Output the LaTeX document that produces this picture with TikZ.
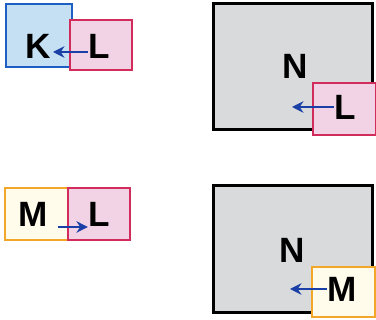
\documentclass[tikz,border=0pt]{standalone}
\usepackage{fontspec}
\setmainfont{Liberation Sans}
\usepackage{tikz}
\usetikzlibrary{shapes,arrows,arrows.meta,positioning}
\definecolor{kblue}{HTML}{1E5FC4}
\definecolor{kfill}{HTML}{C4E0F2}
\definecolor{lred}{HTML}{D12C5C}
\definecolor{lfill}{HTML}{F1D3E5}
\definecolor{morange}{HTML}{F2A72A}
\definecolor{mfill}{HTML}{FFFCEC}
\definecolor{nfill}{HTML}{D9DADC}
\definecolor{arrowblue}{HTML}{1A3FA6}
\tikzstyle{box} = [rectangle, draw, inner sep = 0pt]
\tikzstyle{kbox} = [box, draw=kblue, fill=kfill, line width=1.2pt]
\tikzstyle{lbox} = [box, draw=lred, fill=lfill, line width=1.2pt]
\tikzstyle{mbox} = [box, draw=morange, fill=mfill, line width=1.2pt]
\tikzstyle{nbox} = [box, draw=black, fill=nfill, line width=1.7pt]
\tikzstyle{letter} = [inner sep = 0pt, font=\fontsize{20}{22}\selectfont\bfseries]
\tikzstyle{push} = [draw, arrowblue, line width=1.4pt, -{Stealth[length=6.5pt,width=6.5pt]}]

\begin{document}
\begin{tikzpicture}[x=0.02cm, y=-0.02cm]
			\useasboundingbox (0,0) rectangle (376,320);
			% top left
			\node [kbox, minimum width=1.32cm, minimum height=1.26cm] (k) at (39, 35.5) {};
			\node [lbox, minimum width=1.24cm, minimum height=1.0cm] (l1) at (101, 45) {};
			\node [letter] (tk) at (38, 46) {K};
			\node [letter] (tl1) at (99, 46) {L};
			\coordinate (a1) at (53, 52);
			\path [push] (tl1.west |- a1) -- (a1);
			
			% bottom left
			\node [mbox, minimum width=1.30cm, minimum height=1.04cm] (m) at (37.5, 214) {};
			\node [lbox, minimum width=1.24cm, minimum height=1.04cm] (l2) at (99, 214) {};
			\node [letter] (tm) at (33, 214) {M};
			\node [letter] (tl2) at (99, 214) {L};
			\coordinate (b1) at (58, 227);
			\path [push] (b1) -- (tl2.west |- b1);
			
			% top right
			\node [nbox, minimum width=3.2cm, minimum height=2.54cm] (n1) at (293, 66.5) {};
			\node [lbox, minimum width=1.26cm, minimum height=1.04cm] (l3) at (344.5, 109) {};
			\node [letter] (tn1) at (295, 66) {N};
			\node [letter] (tl3) at (345, 107) {L};
			\coordinate (c1) at (292, 107);
			\path [push] (tl3.west) -- (c1);
			
			% bottom right
			\node [nbox, minimum width=3.2cm, minimum height=2.56cm] (n2) at (293, 249) {};
			\node [mbox, minimum width=1.26cm, minimum height=1.0cm] (m2) at (343.5, 292) {};
			\node [letter] (tn2) at (292, 250) {N};
			\node [letter] (tm2) at (342, 289) {M};
			\coordinate (d1) at (290, 289);
			\path [push] (tm2.west) -- (d1);
		\end{tikzpicture}
\end{document}
